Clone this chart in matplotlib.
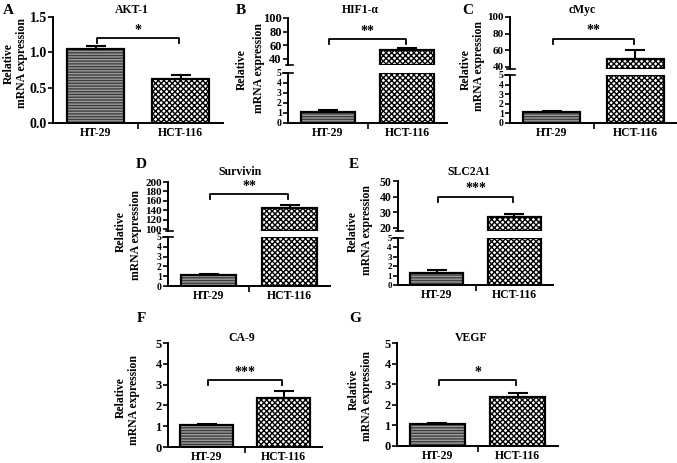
import matplotlib
matplotlib.use('Agg')
import matplotlib.pyplot as plt

# data
genes = ['AKT-1', 'HIF1-α', 'cMyc', 'Survivin', 'SLC2A1', 'CA-9', 'VEGF']
letters = ['A', 'B', 'C', 'D', 'E', 'F', 'G']
cells = ['HT-29', 'HCT-116']
ht29 = [1.05, 1.15, 1.1, 1.15, 1.3, 1.06, 1.07]
ht29_err = [0.04, 0.15, 0.12, 0.1, 0.25, 0.05, 0.05]
hct116 = [0.62, 53, 49, 145, 27, 2.35, 2.4]
hct116_err = [0.06, 3, 11, 6, 2, 0.35, 0.17]
stars = ['*', '**', '**', '**', '***', '***', '*']
bracket_y = [1.2, 69, 74, 174, 40, 3.2, 3.2]

W, H = 677, 463
plt.rcParams['font.family'] = ['Liberation Serif', 'DejaVu Serif']
plt.rcParams['font.weight'] = 'bold'
plt.rcParams['hatch.linewidth'] = 1.0

fig = plt.figure(figsize=(W / 100, H / 100), dpi=100)

# pixel layout: left, right, list of (top, bottom, ylim, yticks, tick fontsize)
layout = [
    (53, 223, [(17, 123, (0, 1.5), [0, 0.5, 1.0, 1.5], 10)]),
    (288, 447, [(18, 65, (31, 100), [40, 60, 80, 100], 9), (73, 123, (0, 5), [0, 1, 2, 3, 4, 5], 7)]),
    (510, 677, [(17, 69, (37.5, 100), [40, 60, 80, 100], 8), (75, 123, (0, 5), [0, 1, 2, 3, 4, 5], 7)]),
    (168, 330, [(182, 231, (96, 200), [100, 120, 140, 160, 180, 200], 8), (237, 286, (0, 5), [0, 1, 2, 3, 4, 5], 7)]),
    (398, 553, [(181, 231, (18, 50), [20, 30, 40, 50], 8.5), (238, 285, (0, 5), [0, 1, 2, 3, 4, 5], 6.5)]),
    (168, 322, [(343, 447, (0, 5), [0, 1, 2, 3, 4, 5], 9)]),
    (397, 558, [(343, 446, (0, 5), [0, 1, 2, 3, 4, 5], 9)]),
]
title_pos = [(132, 10), (360, 10), (582, 10), (240, 172), (469, 172), (242, 338), (471, 338)]
letter_pos = [(8, 10), (241, 10), (468, 10), (141, 165), (354, 165), (141, 318), (355, 318)]
ylab_pos = [((9, 64), (22, 63)), ((242, 70), (259, 68)), ((466, 70), (479, 66)),
            ((121, 232), (136, 235)), ((353, 232), (367, 230)),
            ((121, 398), (134, 400)), ((354, 390), (367, 396))]

faces = ['#3e3e3e', 'white']
hatch_cols = ['#9c9c9c', 'black']
hatches = ['------', 'xxxxxx']
bw = 0.68


def fx(x):
    return x / W


def fy(y):
    return 1 - y / H


for k in range(7):
    left, right, parts = layout[k]
    vals = [ht29[k], hct116[k]]
    errs = [ht29_err[k], hct116_err[k]]
    axes = []
    for j, (top, bot, ylim, ticks, tfs) in enumerate(parts):
        ax = fig.add_axes([fx(left), fy(bot), fx(right - left), (bot - top) / H])
        ax.set_xlim(-0.5, 1.5)
        ax.set_ylim(*ylim)
        ax.set_yticks(ticks)
        ax.set_yticklabels([('%g' % t) if ylim[1] > 2 else ('%.1f' % t) for t in ticks],
                           fontsize=tfs, fontweight='bold')
        ax.tick_params(axis='y', length=3.5, width=1.2, pad=1)
        for s in ['top', 'right']:
            ax.spines[s].set_visible(False)
        ax.spines['left'].set_linewidth(1.4)
        ax.spines['bottom'].set_linewidth(1.4)
        lo, hi = ylim
        for i in range(2):
            base = max(lo, 0)
            topv = min(vals[i], hi)
            if topv <= base:
                continue
            ax.bar(i, topv - base, bottom=base, width=bw, color=faces[i],
                   hatch=hatches[i], edgecolor=hatch_cols[i], linewidth=0)
            ax.bar(i, topv - base, bottom=base, width=bw, fill=False,
                   edgecolor='black', linewidth=1.6)
            if lo <= vals[i] <= hi:
                ax.errorbar(i, vals[i], yerr=[[0], [errs[i]]], fmt='none',
                            ecolor='black', elinewidth=1.5, capsize=7, capthick=1.5)
        is_bottom = j == len(parts) - 1
        if is_bottom:
            ax.set_xticks([0, 1])
            ax.set_xticklabels(cells, fontsize=8.5, fontweight='bold')
            ax.set_xticks([0.5], minor=True)
            ax.tick_params(axis='x', which='major', length=0, pad=3)
            ax.tick_params(axis='x', which='minor', length=4, width=1.2)
        else:
            ax.spines['bottom'].set_visible(False)
            ax.set_xticks([])
            ax.plot([-0.015, 0.03], [0, 0], transform=ax.transAxes, color='black',
                    lw=1.2, clip_on=False)
        if len(parts) > 1 and is_bottom:
            ax.plot([-0.03, 0.03], [1, 1], transform=ax.transAxes, color='black',
                    lw=1.2, clip_on=False)
        ax.patch.set_alpha(0)
        axes.append((ax, top, bot, ylim))

    # significance bracket in the top axes
    ax, top, bot, ylim = axes[0]
    yb = bracket_y[k]
    d = (ylim[1] - ylim[0]) * 5 / (bot - top)
    ax.plot([0.02, 0.02, 0.98, 0.98], [yb - d, yb, yb, yb - d], color='black',
            lw=1.3, clip_on=False)
    ax.text(0.5, yb + d * 0.3, stars[k], ha='center', va='bottom', fontsize=10,
            fontweight='bold')

    tx, ty = title_pos[k]
    fig.text(fx(tx), fy(ty), genes[k], ha='center', va='center', fontsize=8.5,
             fontweight='bold')
    lx, ly = letter_pos[k]
    fig.text(fx(lx), fy(ly), letters[k], ha='center', va='center', fontsize=11,
             fontweight='bold')
    (r1, r2) = ylab_pos[k]
    fig.text(fx(r1[0]), fy(r1[1]), 'Relative', rotation=90, ha='center', va='center',
             fontsize=8.5, fontweight='bold')
    fig.text(fx(r2[0]), fy(r2[1]), 'mRNA expression', rotation=90, ha='center',
             va='center', fontsize=8.5, fontweight='bold')

fig.savefig('out.png', dpi=100)
